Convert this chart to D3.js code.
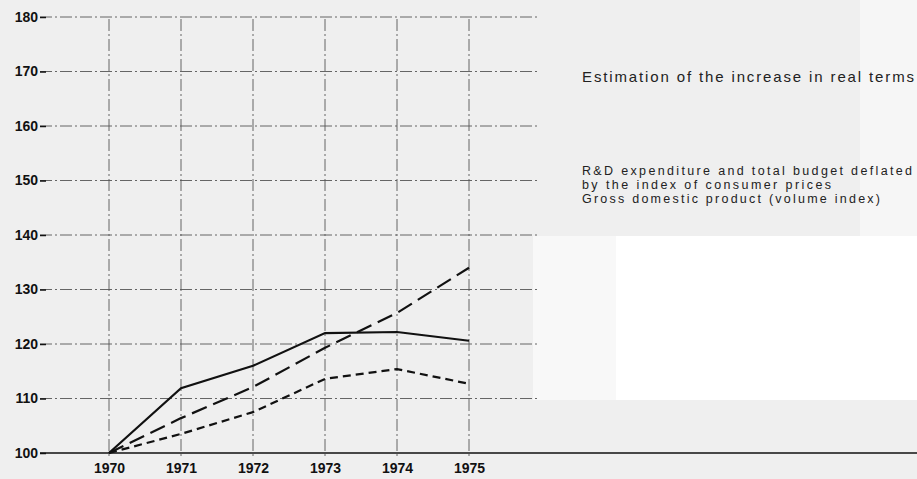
<!DOCTYPE html>
<html>
<head>
<meta charset="utf-8">
<script src="https://cdn.jsdelivr.net/npm/d3@7"></script>
<style>
  body { margin: 0; background: #efefef; }
  svg { display: block; }
  .tick text { font-family: "Liberation Sans Narrow", "Arial Narrow", "Liberation Sans", sans-serif; font-weight: bold; font-size: 14px; fill: #111; }
  .legend { font-family: "Liberation Sans", Arial, sans-serif; fill: #222; }
</style>
</head>
<body>
<div id="chart"></div>
<script>
"use strict";

var WIDTH = 917;
var HEIGHT = 479;

var years = [1970, 1971, 1972, 1973, 1974, 1975];
var yTicks = [100, 110, 120, 130, 140, 150, 160, 170, 180];

// R&D expenditure (solid)
var rdSeries = [100, 111.9, 116, 122, 122.2, 120.6];
// Total budget (long dash)
var budgetSeries = [100, 106.4, 112.1, 119.3, 125.7, 134];
// GDP volume index (short dash)
var gdpSeries = [100, 103.5, 107.5, 113.6, 115.4, 112.7];

var seriesList = [
    { name: "rd", values: rdSeries, dash: null },
    { name: "budget", values: budgetSeries, dash: "16,7" },
    { name: "gdp", values: gdpSeries, dash: "8,5" }
];

var legendLines = [
    { text: "Estimation of the increase in real terms", y: 82, size: 15, len: 332 },
    { text: "R&D expenditure and total budget deflated", y: 175, size: 12.5, len: 330 },
    { text: "by the index of consumer prices", y: 189, size: 12.5, len: 249 },
    { text: "Gross domestic product (volume index)", y: 203, size: 12.5, len: 298 }
];

var svg = d3.select("#chart").append("svg")
    .attr("width", WIDTH)
    .attr("height", HEIGHT);

// scan background patches
svg.append("rect").attr("x", 0).attr("y", 0).attr("width", WIDTH).attr("height", HEIGHT).attr("fill", "#efefef");
svg.append("rect").attr("x", 533).attr("y", 236).attr("width", 384).attr("height", 164).attr("fill", "#f8f8f8");
svg.append("rect").attr("x", 616).attr("y", 236).attr("width", 301).attr("height", 164).attr("fill", "#ffffff");
svg.append("rect").attr("x", 860).attr("y", 0).attr("width", 57).attr("height", 236).attr("fill", "#f6f6f6");

var scaleX = d3.scaleLinear().domain([1970, 1975]).range([109, 469]);
var scaleY = d3.scaleLinear().domain([100, 180]).range([453, 17]);

// Horizontal gridlines (dash-dot)
svg.selectAll("line.hgrid").data(yTicks.filter(function (d) { return d > 100; }))
    .enter().append("line")
    .attr("class", "hgrid")
    .attr("x1", 40).attr("x2", 540)
    .attr("y1", function (d) { return scaleY(d); })
    .attr("y2", function (d) { return scaleY(d); })
    .style("stroke", "#555")
    .style("stroke-width", 0.9)
    .style("stroke-dasharray", "12,3,2,3");

// Vertical gridlines
svg.selectAll("line.vgrid").data(years)
    .enter().append("line")
    .attr("class", "vgrid")
    .attr("x1", function (d) { return scaleX(d); })
    .attr("x2", function (d) { return scaleX(d); })
    .attr("y1", scaleY(180) + 2).attr("y2", scaleY(100) + 6)
    .style("stroke", "#555")
    .style("stroke-width", 0.9)
    .style("stroke-dasharray", "12,3,2,3");

// Baseline
svg.append("line")
    .attr("x1", 40).attr("x2", WIDTH)
    .attr("y1", scaleY(100)).attr("y2", scaleY(100))
    .style("stroke", "#111")
    .style("stroke-width", 1.5);

// Y axis labels
var yAxis = d3.axisLeft(scaleY).tickValues(yTicks).tickSize(6).tickPadding(2).tickFormat(d3.format("d"));
var gy = svg.append("g").attr("transform", "translate(46,0)").call(yAxis);
gy.select(".domain").remove();
gy.selectAll(".tick line").style("stroke", "#111").style("stroke-width", 1.5);

// X axis labels
var xAxis = d3.axisBottom(scaleX).tickValues(years).tickSize(0).tickPadding(10).tickFormat(d3.format("d"));
var gx = svg.append("g").attr("transform", "translate(0," + scaleY(100) + ")").call(xAxis);
gx.select(".domain").remove();

// Series lines
var lineGen = d3.line()
    .x(function (d, i) { return scaleX(years[i]); })
    .y(function (d) { return scaleY(d); });

svg.selectAll("path.series").data(seriesList)
    .enter().append("path")
    .attr("class", "series")
    .attr("d", function (d) { return lineGen(d.values); })
    .style("fill", "none")
    .style("stroke", "#111")
    .style("stroke-width", 2.2)
    .style("stroke-dasharray", function (d) { return d.dash; });

// Legend text
svg.selectAll("text.legend").data(legendLines)
    .enter().append("text")
    .attr("class", "legend")
    .attr("x", 582)
    .attr("y", function (d) { return d.y; })
    .attr("textLength", function (d) { return d.len; })
    .attr("lengthAdjust", "spacing")
    .style("font-size", function (d) { return d.size + "px"; })
    .text(function (d) { return d.text; });
</script>
</body>
</html>
